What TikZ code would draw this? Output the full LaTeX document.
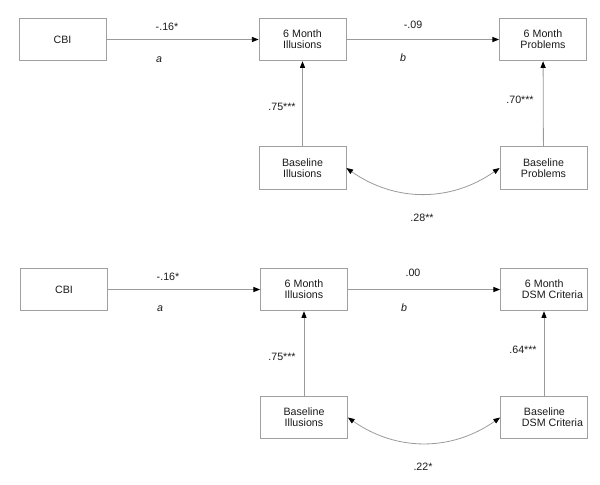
\documentclass[tikz,border=0pt]{standalone}
\usepackage{fontspec}
\setmainfont{Liberation Sans}
\usetikzlibrary{arrows.meta}
\definecolor{boxgray}{HTML}{A0A0A0}
\definecolor{linegray}{HTML}{9A9A9A}
\definecolor{txt}{HTML}{1A1A1A}
\begin{document}
\begin{tikzpicture}[x=0.75pt,y=-0.75pt,
  box/.style={draw=boxgray, line width=0.6pt, minimum width=65.25pt, minimum height=32pt,
    align=center, text=txt, font=\fontsize{8}{8.5}\selectfont, inner sep=1pt},
  lbl/.style={text=txt, font=\fontsize{8}{9}\selectfont, inner sep=0pt},
  arr/.style={draw=linegray, line width=0.6pt, -{Triangle[length=5pt,width=3.8pt,color=black]}},
  darr/.style={draw=linegray, line width=0.6pt, {Triangle[length=5pt,width=3.8pt,color=black]}-{Triangle[length=5pt,width=3.8pt,color=black]}}
]
\useasboundingbox (0,0) rectangle (600,485);
% ---------- top diagram ----------
\node[box] (cbi1) at (62.5,39.5) {CBI};
\node[box] (ill1) at (302.5,39.5) {6 Month\\Illusions};
\node[box] (prob1) at (543,39.5) {6 Month\\Problems};
\node[box] (bill1) at (302.5,168) {Baseline\\Illusions};
\node[box] (bprob1) at (543.5,168) {Baseline\\Problems};
\draw[arr] (cbi1) -- (ill1);
\draw[arr] (ill1) -- (prob1);
\draw[arr] (bill1) -- (ill1);
\draw[arr] (bprob1) -- (prob1);
\draw[darr] (bill1.east) to[bend right=35] (bprob1.west);
\node[lbl] (l1a) at (167,27) {-.16*};
\node[lbl] (l1b) at (159,60) {\itshape a};
\node[lbl] (l1c) at (413,25) {-.09};
\node[lbl] (l1d) at (403,58) {\itshape b};
\node[lbl] (l1e) at (282,107) {.75***};
\node[lbl] (l1f) at (520,100) {.70***};
\node[lbl] (l1g) at (422,218) {.28**};
% ---------- bottom diagram ----------
\node[box] (cbi2) at (64,289.5) {CBI};
\node[box] (ill2) at (304,289.5) {6 Month\\Illusions};
\node[box, align=left] (dsm2) at (544,289.5) {\hspace*{15pt}6 Month\\\hspace*{12.75pt}DSM Criteria};
\node[box] (bill2) at (304,417.5) {Baseline\\Illusions};
\node[box, align=left] (bdsm2) at (544,417.5) {\hspace*{14.25pt}Baseline\\\hspace*{12.75pt}DSM Criteria};
\draw[arr] (cbi2) -- (ill2);
\draw[arr] (ill2) -- (dsm2);
\draw[arr] (bill2) -- (ill2);
\draw[arr] (bdsm2) -- (dsm2);
\draw[darr] (bill2.east) to[bend right=35] (bdsm2.west);
\node[lbl] (l2a) at (168,277) {-.16*};
\node[lbl] (l2b) at (160,309) {\itshape a};
\node[lbl] (l2c) at (413,273) {.00};
\node[lbl] (l2d) at (404,308) {\itshape b};
\node[lbl] (l2e) at (282,357) {.75***};
\node[lbl] (l2f) at (523,350) {.64***};
\node[lbl] (l2g) at (423,467) {.22*};
\end{tikzpicture}
\end{document}
